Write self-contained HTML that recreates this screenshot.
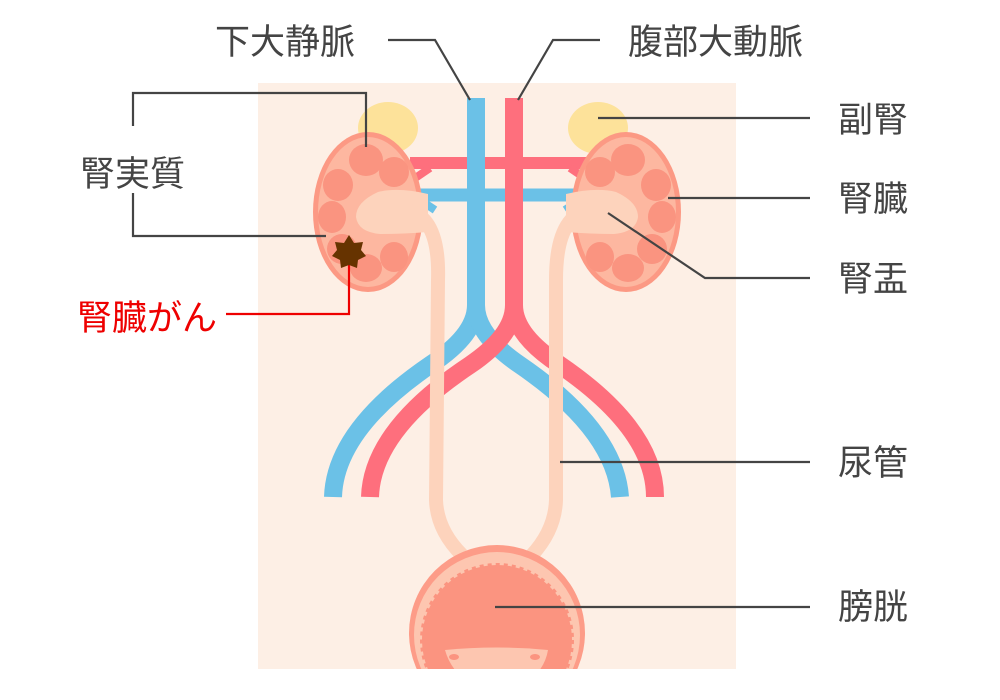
<!DOCTYPE html>
<html><head><meta charset="utf-8"><style>
html,body{margin:0;padding:0;background:#fff;}
svg{display:block}
text{font-family:"Liberation Sans","Noto Sans CJK JP",sans-serif;fill:#444;font-size:35px;}
</style></head><body>
<svg width="1000" height="700" viewBox="0 0 1000 700" xmlns="http://www.w3.org/2000/svg">
<defs>
<clipPath id="body"><rect x="258" y="83" width="478" height="586"/></clipPath>
<g id="kid">
  <ellipse cx="0" cy="0" rx="55" ry="80" fill="#fc9984"/>
  <ellipse cx="0" cy="0" rx="50" ry="75" fill="#fdb7a0"/>
  <g fill="#fa9480">
    <ellipse cx="-2" cy="-52" rx="17" ry="16"/>
    <ellipse cx="-30" cy="-27" rx="15" ry="16"/>
    <ellipse cx="-36" cy="5" rx="14" ry="16"/>
    <ellipse cx="-26" cy="37" rx="15" ry="15"/>
    <ellipse cx="-2" cy="56" rx="16" ry="14"/>
    <ellipse cx="26" cy="-40" rx="15" ry="15"/>
    <ellipse cx="26" cy="45" rx="14" ry="15"/>
  </g>
  <path d="M60 -18 Q30 -25 10 -20 Q-12 -10 -12 5 Q-10 20 12 22 Q35 22 60 20 Z" fill="#fdd3bc"/>
</g>
</defs>
<g clip-path="url(#body)"><rect x="258" y="83" width="478" height="586" fill="#fdefe5"/></g>
<!-- adrenal -->
<ellipse cx="388" cy="128" rx="30" ry="26" fill="#fde29a"/>
<ellipse cx="598" cy="128" rx="30" ry="26" fill="#fde29a"/>
<!-- renal vessels -->
<path d="M410 163 H590" stroke="#fe6f7d" stroke-width="12" fill="none"/>
<path d="M405 185 L430 168 M595 185 L570 168" stroke="#fe6f7d" stroke-width="8" fill="none"/>
<path d="M405 195 H595" stroke="#6bc1e7" stroke-width="13" fill="none"/>
<path d="M420 200 L435 210 M580 200 L565 210" stroke="#6bc1e7" stroke-width="8" fill="none"/>
<!-- great vessels -->
<path d="M476 98 V305 Q476 335 430 365 Q335 430 333 497" stroke="#6bc1e7" stroke-width="18" fill="none"/>
<path d="M476 305 Q476 335 520 365 Q615 430 620 497" stroke="#6bc1e7" stroke-width="18" fill="none"/>
<path d="M514 98 V305 Q514 335 470 365 Q372 430 370 497" stroke="#fe6f7d" stroke-width="18" fill="none"/>
<path d="M514 305 Q514 335 560 365 Q655 430 655 497" stroke="#fe6f7d" stroke-width="18" fill="none"/>
<!-- kidneys -->
<g transform="translate(368,212)"><use href="#kid"/></g>
<g transform="translate(626,212) scale(-1,1)"><use href="#kid"/></g>
<!-- ureters -->
<path d="M405 210 Q440 215 438 280 L436 500 Q437 530 462 555" stroke="#fdd3bc" stroke-width="14" fill="none"/>
<path d="M590 210 Q556 215 556 280 L556 500 Q555 530 532 555" stroke="#fdd3bc" stroke-width="14" fill="none"/>
<!-- bladder -->
<clipPath id="bc"><rect x="0" y="0" width="1000" height="669"/></clipPath>
<g clip-path="url(#bc)">
<circle cx="497" cy="633" r="88" fill="#fd9c88"/>
<circle cx="497" cy="635" r="83" fill="#fdc6b0"/>
<circle cx="497" cy="640" r="75" fill="#fb9480" stroke="#fb9480" stroke-width="4" stroke-dasharray="4 4"/>
<path d="M445 650 Q497 645 548 650 Q545 668 530 680 H465 Q450 668 445 650Z" fill="#fdc6b0"/>
<ellipse cx="454" cy="657" rx="5" ry="3" fill="#fb9480"/>
<ellipse cx="535" cy="657" rx="5" ry="3" fill="#fb9480"/>
</g>
<!-- leader lines -->
<g stroke="#444" stroke-width="2.2" fill="none">
<path d="M388 40 H435 L470 100"/>
<path d="M600 40 H553 L518 100"/>
<path d="M598 118 H810"/>
<path d="M668 198 H810"/>
<path d="M608 213 L705 278 H810"/>
<path d="M560 462 H810"/>
<path d="M495 607 H810"/>
<path d="M133 126 V93 H366 V147"/>
<path d="M133 193 V236 H326"/>
</g>
<path d="M226 314 H349 V262" stroke="#e00" stroke-width="2.2" fill="none"/>
<polygon points="349,235 354,243 363,242 361,250 366,256 358,260 357,268 349,265 341,268 340,260 332,256 337,250 335,242 344,243" fill="#663300"/>
<!-- labels -->
<text x="215" y="54">下大静脈</text>
<text x="628" y="54">腹部大動脈</text>
<text x="838" y="132">副腎</text>
<text x="838" y="211">腎臓</text>
<text x="838" y="291">腎盂</text>
<text x="838" y="475">尿管</text>
<text x="838" y="619">膀胱</text>
<text x="80" y="186">腎実質</text>
<text x="77" y="330" style="fill:#e00">腎臓がん</text>
</svg>
</body></html>
